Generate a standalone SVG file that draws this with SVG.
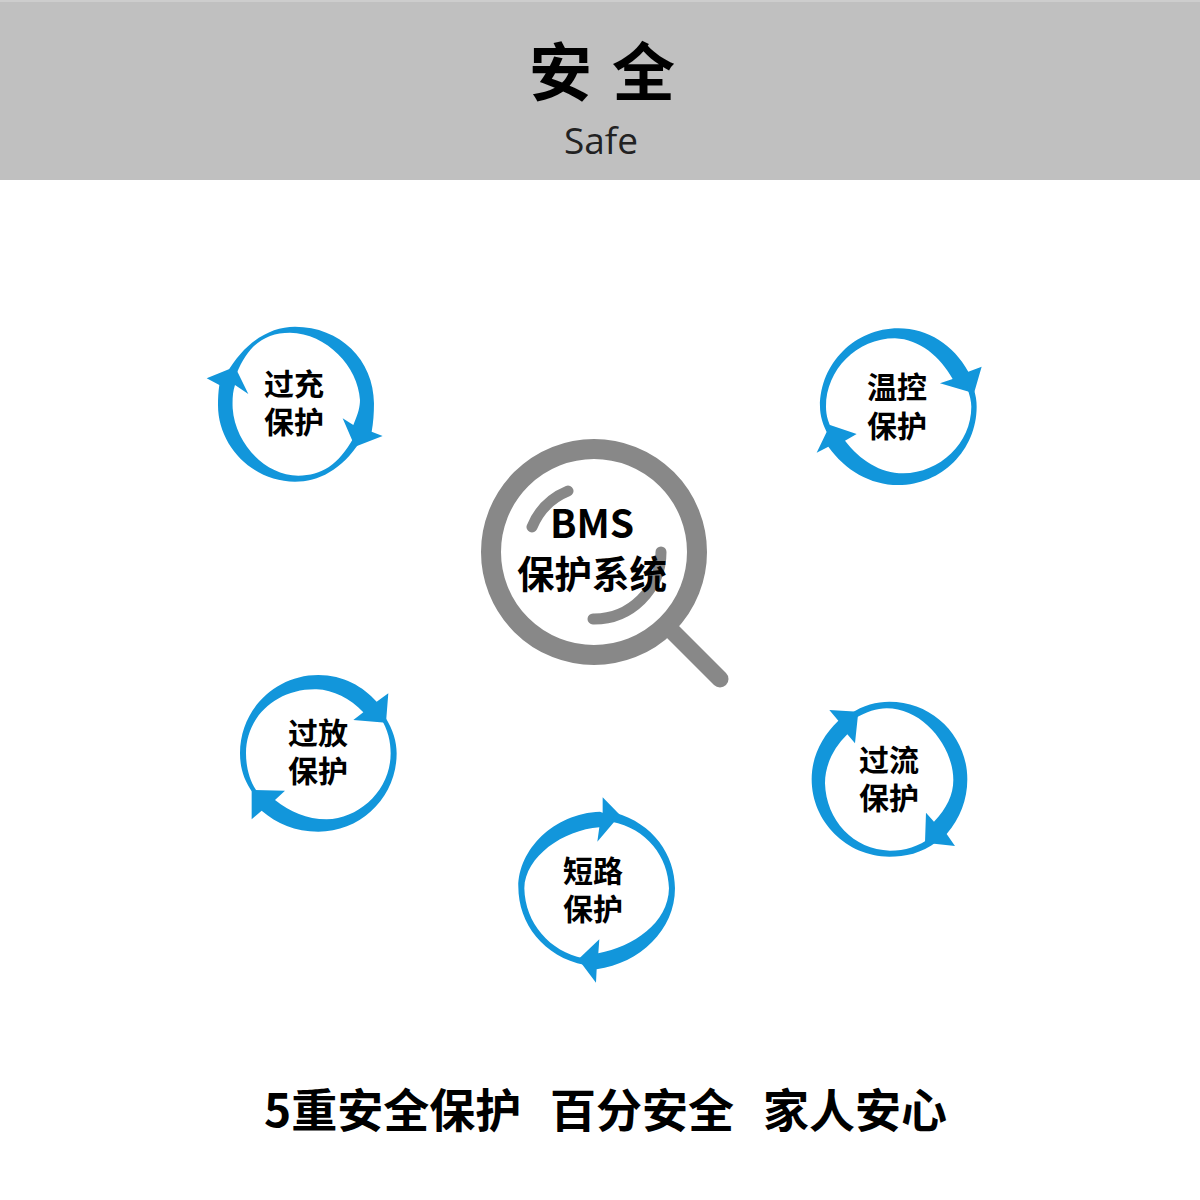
<svg xmlns="http://www.w3.org/2000/svg" width="1200" height="1200" viewBox="0 0 1200 1200">
<style>
.a{fill:#1296db}
.t{font-family:"Noto Sans CJK SC","Noto Sans",sans-serif;font-weight:700;fill:#000;text-anchor:middle}
.s{text-anchor:start;font-size:46px}
.n{font-size:30px}
.h{fill:none;stroke:#888;stroke-linecap:round}
</style>
<rect width="1200" height="1200" fill="#fff"/>
<g id="header">
<rect width="1200" height="180" fill="#c0c0c0"/>
<rect width="1200" height="2" fill="#cdcdcd"/>
<text class="t" x="612" y="95" font-size="63" letter-spacing="20">安全</text>
<text x="601" y="154" font-size="37" text-anchor="middle" fill="#222" font-family="'Open Sans',sans-serif">Safe</text>
</g>
<g id="bms">
<circle class="h" cx="594" cy="552" r="103" stroke-width="20"/>
<path class="h" stroke-width="17" d="M673 632L720 679"/>
<path class="h" stroke-width="11" d="M532 527A66 66 0 0 1 568 491"/>
<path class="h" stroke-width="11" d="M593 619A67 67 0 0 0 661 552"/>
<text class="t" font-size="38"><tspan x="592" y="538" font-size="39">BMS</tspan><tspan x="592" y="588" font-size="37.5">保护系统</tspan></text>
</g>
<g id="node-overcharge">
<g transform="translate(190 310) scale(.3333)">
<path class="a" d="M110 190C165 95 240 50 315 50C450 50 552 150 552 280C552 310 550 340 545 365L578 378L495 410L458 325L490 345C505 310 510 290 510 270C505 170 410 70 300 68C225 68 175 105 140 190Z"/>
<path class="a" d="M510 395C455 480 385 515 315 515C190 515 84 410 84 285C84 265 85 245 88 225L50 205L135 170L175 252L135 225C128 245 127 270 128 295C135 400 225 497 325 497C395 497 445 465 490 385Z"/>
</g>
<text class="t n"><tspan x="294" y="395">过充</tspan><tspan x="294" y="433">保护</tspan></text>
</g>
<g id="node-temp">
<g transform="translate(800 310) scale(.3333)">
<path class="a" d="M85 375C68 345 60 315 60 290C60 160 165 55 295 55C385 55 460 105 505 185L545 170L522 250L420 220L458 207C420 140 360 88 285 85C170 85 78 180 78 290C78 315 85 345 105 370Z"/>
<path class="a" d="M520 235C528 255 530 275 530 290C530 420 425 525 295 525C210 525 135 480 85 410L50 428L90 345L170 372L135 392C180 450 240 490 310 490C420 488 514 400 514 290C514 275 510 255 500 230Z"/>
</g>
<text class="t n"><tspan x="897" y="398">温控</tspan><tspan x="897" y="437">保护</tspan></text>
</g>
<g id="node-discharge">
<g transform="translate(220 660) scale(.3333)">
<path class="a" d="M100 400C70 360 60 320 60 280C60 150 165 45 295 45C370 45 430 80 470 125L505 100L498 188L400 180L430 157C390 115 340 90 290 88C170 85 78 170 78 280C78 320 88 365 115 400Z"/>
<path class="a" d="M495 170C520 210 530 245 530 280C530 410 425 515 295 515C225 515 170 490 125 452L95 478L95 390L195 392L165 420C210 455 260 478 320 478C420 475 512 390 512 280C512 245 505 210 480 170Z"/>
</g>
<text class="t n"><tspan x="318" y="744">过放</tspan><tspan x="318" y="782">保护</tspan></text>
</g>
<g id="node-short">
<g transform="translate(500 790) scale(.3333)">
<path class="a" d="M255 525C130 500 55 400 55 290C55 180 160 70 300 65L308 68L308 22L360 75L292 155L298 112C190 120 75 200 73 295C75 400 150 485 250 505Z"/>
<path class="a" d="M345 68C460 100 525 195 525 295C525 420 420 520 290 538L288 578L235 508L298 448L295 490C400 470 505 400 507 295C505 200 440 115 335 95Z"/>
</g>
<text class="t n"><tspan x="593" y="882">短路</tspan><tspan x="593" y="920">保护</tspan></text>
</g>
<g id="node-overcurrent">
<g transform="translate(790 690) scale(.3333)">
<path class="a" d="M118 60L205 65L195 160L172 133C130 175 105 225 105 280C108 390 190 480 300 482C345 482 385 470 425 440L440 455C395 490 345 500 298 500C170 500 65 395 65 268C65 200 95 140 145 92Z"/>
<path class="a" d="M180 72C220 45 260 35 298 35C430 35 532 140 532 268C532 330 510 385 470 432L495 468L405 458L408 368L432 395C470 355 490 315 490 270C490 170 400 55 290 55C260 55 230 65 195 85Z"/>
</g>
<text class="t n"><tspan x="889" y="771">过流</tspan><tspan x="889" y="809">保护</tspan></text>
</g>
<g id="slogan">
<text class="t s" x="264" y="1127">5重安全保护</text>
<text class="t s" x="550" y="1127">百分安全</text>
<text class="t s" x="763" y="1127">家人安心</text>
</g>
</svg>
